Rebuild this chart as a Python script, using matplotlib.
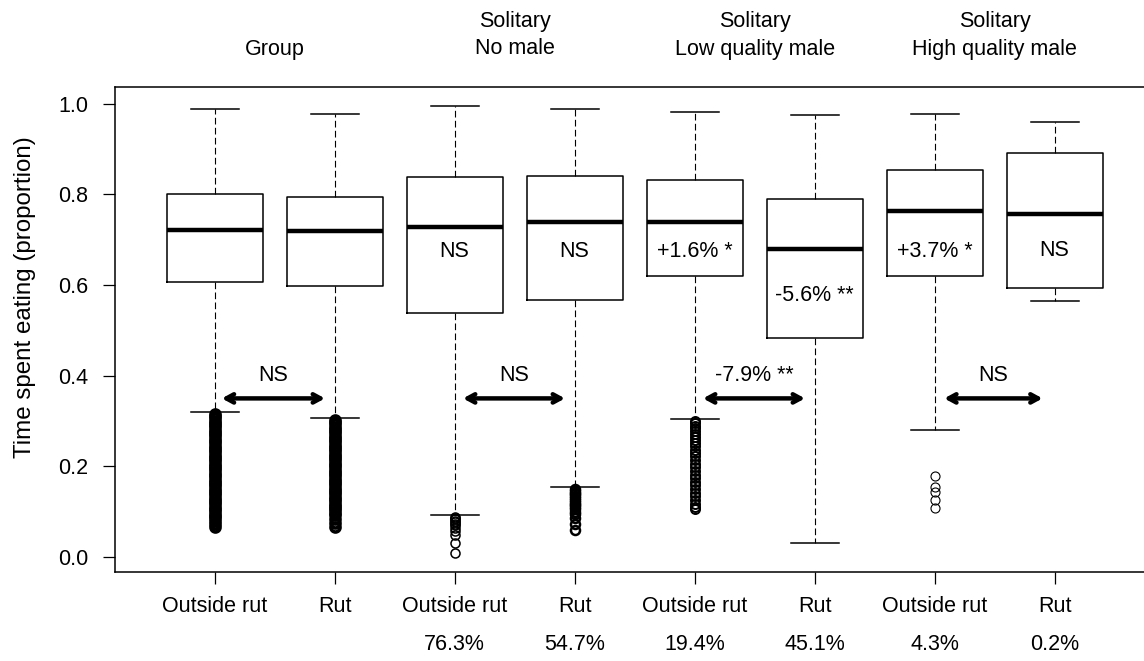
import matplotlib
matplotlib.use("Agg")
import matplotlib.pyplot as plt
import numpy as np

plt.rcParams["font.family"] = ["Liberation Sans", "DejaVu Sans"]
FS = 15.5

# ---- data -------------------------------------------------------------------
positions = [1, 2, 3, 4, 5, 6, 7, 8]
tick_labels = ["Outside rut", "Rut"] * 4
pct_labels = ["", "", "76.3%", "54.7%", "19.4%", "45.1%", "4.3%", "0.2%"]
title_top = ["", "Solitary", "Solitary", "Solitary"]
title_bottom = ["Group", "No male", "Low quality male", "High quality male"]

whis_hi = [0.989, 0.978, 0.996, 0.989, 0.982, 0.976, 0.978, 0.960]
q3      = [0.801, 0.795, 0.839, 0.841, 0.832, 0.790, 0.854, 0.892]
median  = [0.722, 0.720, 0.728, 0.740, 0.740, 0.680, 0.764, 0.757]
q1      = [0.607, 0.598, 0.539, 0.567, 0.620, 0.483, 0.620, 0.594]
whis_lo = [0.320, 0.307, 0.093, 0.155, 0.305, 0.031, 0.280, 0.565]

fliers_1 = [0.316, 0.311, 0.306, 0.301, 0.296, 0.291, 0.286, 0.281, 0.276, 0.271,
            0.266, 0.261, 0.256, 0.251, 0.246, 0.241, 0.236, 0.231, 0.226, 0.221,
            0.216, 0.211, 0.206, 0.201, 0.196, 0.191, 0.186, 0.181, 0.176, 0.171,
            0.166, 0.161, 0.156, 0.151, 0.146, 0.141, 0.136, 0.131, 0.126, 0.121,
            0.116, 0.111, 0.106, 0.101, 0.096, 0.091, 0.086, 0.080, 0.072, 0.066]
fliers_2 = [0.303, 0.298, 0.293, 0.288, 0.283, 0.278, 0.273, 0.268, 0.263, 0.258,
            0.253, 0.248, 0.243, 0.238, 0.233, 0.228, 0.223, 0.218, 0.213, 0.208,
            0.203, 0.198, 0.193, 0.188, 0.183, 0.178, 0.173, 0.168, 0.163, 0.158,
            0.153, 0.148, 0.143, 0.138, 0.133, 0.128, 0.123, 0.118, 0.113, 0.108,
            0.103, 0.098, 0.093, 0.084, 0.075, 0.066]
fliers_3 = [0.089, 0.086, 0.083, 0.080, 0.077, 0.074, 0.070, 0.065, 0.058, 0.049,
            0.031, 0.009]
fliers_4 = [0.150, 0.146, 0.142, 0.138, 0.134, 0.130, 0.126, 0.122, 0.118, 0.114,
            0.110, 0.105, 0.100, 0.095, 0.086, 0.073, 0.060]
fliers_5 = [0.300, 0.295, 0.290, 0.284, 0.278, 0.272, 0.265, 0.258, 0.251, 0.244,
            0.237, 0.230, 0.222, 0.214, 0.206, 0.198, 0.190, 0.182, 0.174, 0.166,
            0.158, 0.150, 0.142, 0.134, 0.126, 0.118, 0.110, 0.105]
fliers_6 = []
fliers_7 = [0.179, 0.155, 0.144, 0.126, 0.108]
fliers_8 = []
fliers = [fliers_1, fliers_2, fliers_3, fliers_4, fliers_5, fliers_6, fliers_7, fliers_8]

box_text = ["", "", "NS", "NS", "+1.6% *", "-5.6% **", "+3.7% *", "NS"]
box_text_y = [0, 0, 0.673, 0.673, 0.673, 0.578, 0.673, 0.677]

arrow_from = [1.06, 3.07, 5.07, 7.08]
arrow_to = [1.92, 3.92, 5.92, 7.90]
arrow_y = 0.35
arrow_text = ["NS", "NS", "-7.9% **", "NS"]
arrow_text_y = 0.40

# ---- figure ------------------------------------------------------------------
W, H = 1144, 661
fig = plt.figure(figsize=(W / 100, H / 100), dpi=100)
# plot frame: left 115px, bottom 572px, top 87px; right edge runs off the image
ax = fig.add_axes([115 / W, (H - 572) / H, 1038 / W, 485 / H])

stats = []
for i in range(8):
    stats.append(dict(med=median[i], q1=q1[i], q3=q3[i],
                      whislo=whis_lo[i], whishi=whis_hi[i], fliers=fliers[i]))

bp = ax.bxp(stats, positions=positions, widths=0.8, showfliers=True,
            boxprops=dict(color="black", linewidth=1.1),
            medianprops=dict(color="black", linewidth=3.2, solid_capstyle="butt"),
            whiskerprops=dict(color="black", linewidth=0.8, linestyle=(0, (6, 3))),
            capprops=dict(color="black", linewidth=1.1),
            capwidths=0.4,
            flierprops=dict(marker="o", markerfacecolor="none",
                            markeredgecolor="black", markersize=6.5,
                            markeredgewidth=0.8, linestyle="none"))
# the group columns hold thousands of points and print as solid black
for i, mew in zip(range(8), [2.6, 2.6, 1.1, 1.8, 1.4, 0.8, 0.8, 0.8]):
    bp["fliers"][i].set_markeredgewidth(mew)

for x, txt, y in zip(positions, box_text, box_text_y):
    if txt:
        ax.text(x, y, txt, ha="center", va="center", fontsize=FS)

for x0, x1, txt in zip(arrow_from, arrow_to, arrow_text):
    ax.annotate("", xy=(x1, arrow_y), xytext=(x0, arrow_y),
                arrowprops=dict(arrowstyle="<->,head_length=0.55,head_width=0.3",
                                lw=3.2, color="black", shrinkA=0, shrinkB=0))
    ax.text((x0 + x1) / 2, arrow_text_y, txt, ha="center", va="center", fontsize=FS)

ax.set_xlim(0.17, 8.82)
ax.set_ylim(-0.033, 1.037)
ax.set_yticks([0.0, 0.2, 0.4, 0.6, 0.8, 1.0])
ax.set_yticklabels(["0.0", "0.2", "0.4", "0.6", "0.8", "1.0"])
ax.set_xticks(positions)
ax.set_xticklabels(tick_labels)
ax.tick_params(axis="both", labelsize=FS, length=8.6, width=0.9, colors="black")
ax.tick_params(axis="y", pad=10.5)
ax.tick_params(axis="x", pad=9)
for side in ("left", "bottom", "top", "right"):
    ax.spines[side].set_linewidth(1.1)

tr = ax.get_xaxis_transform()
for x, txt in zip(positions, pct_labels):
    if txt:
        ax.text(x, (572 - 645) / 485, txt, transform=tr, ha="center", va="center",
                fontsize=FS)

for k in range(4):
    xm = positions[2 * k] + 0.5
    if title_top[k]:
        ax.text(xm, (572 - 21) / 485, title_top[k], transform=tr, ha="center",
                va="center", fontsize=FS)
    ax.text(xm, (572 - 49) / 485, title_bottom[k], transform=tr, ha="center",
            va="center", fontsize=FS)

fig.text(25 / W, 1 - 297 / H, "Time spent eating (proportion)", rotation=90,
         ha="center", va="center", fontsize=17.4)

fig.savefig("out.png", dpi=100)
